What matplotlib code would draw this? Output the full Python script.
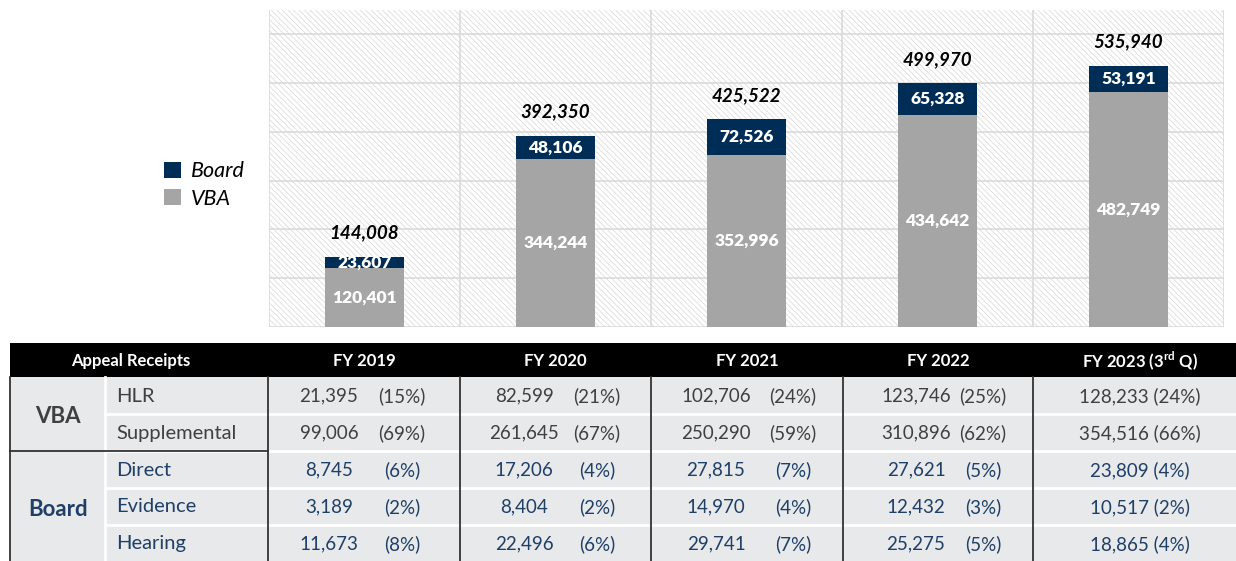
import matplotlib.pyplot as plt
from matplotlib.patches import Rectangle
import numpy as np

plt.rcParams['font.family'] = ['Lato', 'DejaVu Sans']
plt.rcParams['mathtext.fontset'] = 'custom'
plt.rcParams['mathtext.rm'] = 'Lato'
plt.rcParams['mathtext.bf'] = 'Lato:bold'
plt.rcParams['hatch.linewidth'] = 0.5

# chart data
years = ["FY 2019", "FY 2020", "FY 2021", "FY 2022", "FY 2023 (3$^{\\mathbf{rd}}$ Q)"]
vba = [120401, 344244, 352996, 434642, 482749]
board = [23607, 48106, 72526, 65328, 53191]

# table data
row_labels = ["HLR", "Supplemental", "Direct", "Evidence", "Hearing"]
hlr_n = [21395, 82599, 102706, 123746, 128233]
hlr_p = [15, 21, 24, 25, 24]
supp_n = [99006, 261645, 250290, 310896, 354516]
supp_p = [69, 67, 59, 62, 66]
direct_n = [8745, 17206, 27815, 27621, 23809]
direct_p = [6, 4, 7, 5, 4]
evid_n = [3189, 8404, 14970, 12432, 10517]
evid_p = [2, 2, 4, 3, 2]
hear_n = [11673, 22496, 29741, 25275, 18865]
hear_p = [8, 6, 7, 5, 4]

navy = '#002D56'
grey = '#A5A5A5'
txt_grey = '#404040'
txt_navy = '#1F3F66'
W, H = 1236, 561

fig = plt.figure(figsize=(W / 100, H / 100), dpi=100)

# ---- bar chart ----
ax = fig.add_axes([269 / W, 1 - 327 / H, (1224 - 269) / W, (327 - 10) / H])
x = np.arange(len(years))
totals = np.array(vba) + np.array(board)

ax.add_patch(Rectangle((0, 0), 1, 1, transform=ax.transAxes, facecolor='white',
                       edgecolor='#d6d6d6', hatch='\\\\\\\\\\\\', lw=0, zorder=0))
b1 = ax.bar(x, vba, width=0.41, color=grey, zorder=3)
b2 = ax.bar(x, board, bottom=vba, width=0.41, color=navy, zorder=3)
ax.bar_label(b1, labels=[f"{v:,}" for v in vba], label_type='center',
             color='white', fontweight='heavy', fontsize=12.5)
ax.bar_label(b2, labels=[f"{v:,}" for v in board], label_type='center',
             color='white', fontweight='heavy', fontsize=12.5)
ax.bar_label(b2, labels=[f"{v:,}" for v in totals], padding=11,
             color='black', fontweight='bold', fontstyle='italic', fontsize=13.5)

ax.set_xlim(-0.5, len(years) - 0.5)
ax.set_ylim(0, 650000)
ax.set_yticks(np.arange(0, 600001, 100000))
ax.set_xticks(np.arange(-0.5, len(years)), minor=False)
ax.grid(True, color='#dadada', lw=1.2, zorder=1)
ax.tick_params(length=0, labelbottom=False, labelleft=False)
for s in ax.spines.values():
    s.set_visible(False)

ax.legend([b2, b1], ["Board", "VBA"], loc='center left',
          bbox_to_anchor=(145 / W, 1 - 185 / H), bbox_transform=fig.transFigure,
          frameon=False, handlelength=0.75, handleheight=0.75, handletextpad=0.5,
          labelspacing=0.35, prop={'style': 'italic', 'size': 15.5})

# ---- table ----
tab = fig.add_axes([0, 0, 1, 1])
tab.set_xlim(0, W)
tab.set_ylim(H, 0)
tab.axis('off')

col_edges = [268, 460, 651, 843, 1033, 1250]
row_edges = [377, 414, 451, 488, 525, 562]

tab.add_patch(Rectangle((10, 377), W - 10, 190, facecolor='#E7E9EB', lw=0))
tab.add_patch(Rectangle((10, 343), W - 10, 34, facecolor='black', lw=0))
for y in row_edges[1:-1]:
    tab.plot([105, W], [y, y], color='white', lw=2)
tab.plot([105, 105], [377, 562], color='white', lw=2)
tab.plot([10, 268], [451, 451], color='#333333', lw=1.3)
for xe in [10] + col_edges[:-1]:
    tab.plot([xe, xe], [377, 562], color='#333333', lw=1.3)

tab.text(131, 361, "Appeal Receipts", color='white', fontweight='bold',
         fontsize=12, ha='center', va='center')
for i, yl in enumerate(years):
    cx = 1140 if i == 4 else (col_edges[i] + col_edges[i + 1]) / 2
    tab.text(cx, 361, yl, color='white', fontweight='bold', fontsize=12,
             ha='center', va='center')

tab.text(58, 416, "VBA", color=txt_grey, fontweight='bold', fontsize=16,
         ha='center', va='center')
tab.text(58, 509, "Board", color=txt_navy, fontweight='bold', fontsize=16,
         ha='center', va='center')

rows_n = [hlr_n, supp_n, direct_n, evid_n, hear_n]
rows_p = [hlr_p, supp_p, direct_p, evid_p, hear_p]
num_off = [61, 64, 65, 73]
pct_off = [134, 137, 142, 140]
fs = 13.5
for r in range(5):
    c = txt_grey if r < 2 else txt_navy
    cy = (row_edges[r] + row_edges[r + 1]) / 2 + 0.5
    tab.text(116, cy, row_labels[r], color=c, fontsize=14.5, ha='left', va='center')
    for i in range(5):
        n, p = rows_n[r][i], rows_p[r][i]
        if i == 4:
            tab.text(1140, cy, f"{n:,} ({p}%)", color=c, fontsize=fs,
                     ha='center', va='center')
        else:
            tab.text(col_edges[i] + num_off[i], cy, f"{n:,}", color=c,
                     fontsize=fs, ha='center', va='center')
            tab.text(col_edges[i] + pct_off[i], cy, f"({p}%)", color=c,
                     fontsize=fs, ha='center', va='center')

fig.savefig('out.png', dpi=100)
